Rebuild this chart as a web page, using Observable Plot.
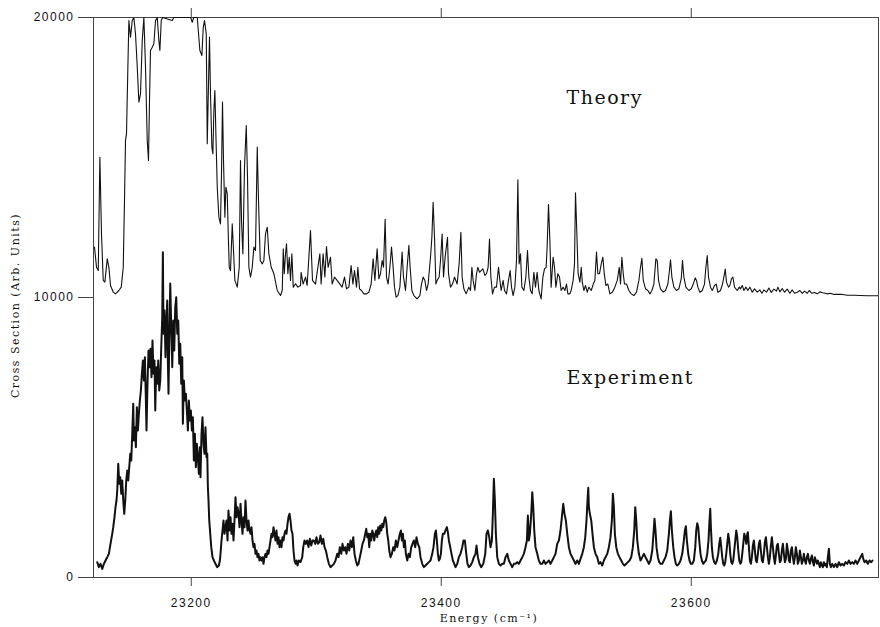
<!DOCTYPE html>
<html><head><meta charset="utf-8">
<script src="https://cdn.jsdelivr.net/npm/d3@7"></script>
<script src="https://cdn.jsdelivr.net/npm/@observablehq/plot@0.6"></script>
<style>body{margin:0;background:#fff} svg{display:block}</style>
</head><body><div id="chart"></div>
<script>
// Theory spectrum (offset by +10000 in the figure), [energy cm^-1, cross section]
const theory = [
[23122.6,11800],[23124.2,11080],[23125.6,10960],[23126.9,15010],[23128.2,12270],[23129.6,10610],[23130.9,10550],[23132.8,11380],[23134.1,11080],[23135.4,10430],[23137.6,10190],[23139.4,10130],[23142.1,10250],[23144.0,10370],[23145.6,11080],[23146.6,13460],[23147.4,15610],[23148.2,15850],[23149.3,18230],[23150.1,19890],[23151.4,19300],[23152.8,19890],[23154.1,20000],[23155.4,19420],[23156.8,18230],[23158.1,16980],[23159.4,17270],[23160.8,19180],[23162.1,20000],[23163.4,18230],[23164.8,15610],[23165.8,14890],[23166.6,17040],[23167.4,18820],[23168.8,18940],[23170.1,19060],[23171.4,19890],[23172.8,20000],[23174.1,19180],[23174.9,18820],[23176.0,19890],[23177.0,20000],[23184.8,19890],[23186,20000],[23199.5,20000],[23200.8,19830],[23202,20000],[23204.8,20000],[23206.9,18820],[23208.5,18640],[23209.6,19650],[23210.6,19890],[23212.0,19420],[23212.8,15490],[23213.8,17630],[23214.6,19300],[23215.4,17270],[23216.5,15370],[23217.3,15130],[23218.1,16680],[23218.9,17390],[23219.7,15850],[23220.8,13940],[23222.1,12870],[23223.4,12630],[23224.2,14420],[23225.0,16980],[23225.8,14890],[23226.9,12870],[23227.7,13940],[23228.8,13700],[23229.6,12270],[23230.4,11080],[23231.4,10960],[23232.8,12630],[23233.8,11680],[23234.9,10610],[23236.8,10370],[23238.4,11080],[23239.4,14890],[23240.2,12750],[23241.3,11560],[23242.6,14650],[23244.0,16140],[23245.0,14300],[23246.1,11080],[23247.4,10730],[23248.8,11080],[23250.1,11800],[23251.4,11680],[23252.8,15370],[23253.8,13460],[23255.2,11320],[23256.8,11200],[23258.1,11320],[23259.4,12270],[23260.8,12510],[23262.1,11560],[23264.0,11080],[23266.1,10850],[23268.8,10250],[23271.4,10070],[23272.8,10250],[23273.6,11740],[23274.4,10850],[23275.4,11560],[23276.2,11920],[23277.3,10850],[23278.4,11440],[23279.4,10610],[23280.5,11560],[23281.6,10370],[23283.4,10490],[23285.3,10370],[23287.4,10430],
[23287.9,10900],[23289.5,10480],[23291.4,10730],[23292.7,10430],[23295.4,12390],[23297.0,10610],[23299.4,10480],[23301.3,11080],[23302.9,11560],[23303.9,10480],[23305.5,11560],[23306.9,10730],[23308.2,11820],[23309.5,11080],[23311.4,11440],[23312.7,10480],[23314.6,10730],[23316.7,10610],[23318.9,10480],[23320.7,10370],[23322.6,10730],[23324.2,10310],[23326.1,10370],[23327.9,11140],[23329.3,10480],[23330.6,10960],[23332.2,10370],[23333.3,11080],[23334.6,10310],[23336.2,10250],[23338.1,10130],[23340.2,10130],[23342.1,10190],[23343.9,10480],[23345.5,11380],[23346.9,10610],[23348.7,11740],[23350.1,10670],[23351.4,10850],[23352.7,11320],[23353.8,11080],[23355.1,12790],[23356.2,10730],[23357.5,10480],[23358.9,11080],[23360.2,11800],[23361.3,11200],[23362.6,10370],[23363.9,10010],[23365.3,10070],[23366.9,10370],[23368.7,11620],[23369.8,10730],[23371.4,10250],[23372.7,11080],[23374.1,11860],[23375.1,11080],[23376.5,10250],[23378.1,10070],[23380.7,9950],[23382.9,10070],[23384.2,10480],[23385.5,10730],[23386.9,10610],[23388.2,10250],[23389.5,10480],[23391.4,11440],[23392.5,12150],[23393.5,13400],[23394.6,12150],[23395.7,10480],[23396.7,10610],[23398.3,10730],[23399.4,11320],[23400.7,12270],[23401.8,10730],[23403.1,11440],[23405.0,12150],[23405.8,10850],[23407.4,10370],[23409.0,10480],[23410.6,10730],[23412.7,10480],[23414.3,11200],[23415.7,12330],[23416.7,10730],[23418.1,10310],[23419.9,10130],[23422.1,10370],[23423.4,10250],[23424.5,11080],[23425.5,10610],[23426.9,10250],[23428.2,10850],[23429.3,11080],[23430.6,10900],[23431.9,10960],[23433.3,11020],[23434.9,10790],[23436.2,10850],[23437.5,11080],[23438.6,12090],[23439.7,10730],[23441.0,10130],[23442.6,10370],[23444.2,10370],[23445.8,11080],[23446.9,10610],[23447.9,10250],[23449.5,10610],[23450.6,10250],[23452.2,10130],[23453.8,10610],[23455.1,10960],[23456.2,10370],[23457.5,10070],[23458.9,10370],[23460.2,11320],[23461.3,14200],[23462.3,11200],[23463.4,11560],[23464.5,10370],[23466.1,10250],[23467.7,10730],[23469.0,11680],[23470.1,10730],[23471.4,10250],[23472.7,10130],[23474.1,10900],[23475.4,10370],[23476.7,10900],[23478.1,10250],[23479.9,9950],[23481.3,10730],[23482.6,11020],[23483.9,11080],[23484.7,11800],[23485.8,13320],[23486.9,12040],[23487.9,10370],[23489.5,11440],[23490.6,11080],[23491.7,10370],[23493.3,10850],[23494.6,10730],[23495.9,10250],[23497.5,10370],[23498.9,10250],[23500.2,10480],[23501.3,10130],[23502.9,10130],[23503.9,10250],[23505.5,10610],[23506.6,11200],[23507.4,13740],[23508.5,12270],[23509.5,10850],[23510.9,10550],
[23512.0,11080],[23512.8,10550],[23514.1,10250],[23515.4,10430],[23516.8,10190],[23518.1,10370],[23520.0,10250],[23521.6,10480],[23522.9,10610],[23524.2,11620],[23525.3,10850],[23526.6,10850],[23528.0,11200],[23529.3,11440],[23530.4,10850],[23531.7,10430],[23533.3,10480],[23534.9,10130],[23536.8,10190],[23538.9,10370],[23540.8,10610],[23542.4,11080],[23543.4,10480],[23544.5,11440],[23545.6,10850],[23546.6,10480],[23548.2,10480],[23550.1,10250],[23552.0,10130],[23554.1,10070],[23556.2,10190],[23558.1,10610],[23559.4,11080],[23560.5,11400],[23561.6,10610],[23563.4,10310],[23565.3,10250],[23566.9,10130],[23568.5,10250],[23570.1,10480],[23571.7,11380],[23572.8,11320],[23573.8,10610],[23575.4,10310],[23577.6,10190],[23579.4,10250],[23581.3,10480],[23582.4,10900],[23583.4,11350],[23584.5,10730],[23586.1,10370],[23588.2,10250],[23590.1,10310],[23592.0,10670],[23593.0,11320],[23594.1,10730],[23595.7,10370],[23598.1,10250],[23600.0,10310],[23601.6,10480],[23603.2,10700],[23604.2,10610],[23605.3,10370],[23606.9,10190],[23608.8,10250],[23610.6,10480],[23611.7,11080],[23612.8,11500],[23613.8,10730],[23615.4,10370],[23616.8,10250],[23618.6,10430],[23620.0,10480],[23621.3,10190],[23623.4,10250],[23625.0,10480],[23626.1,10730],[23627.2,11020],[23628.2,10550],[23629.8,10370],[23630.9,10430],[23632.2,10670],[23633.3,10730],[23634.6,10370],[23636.8,10250],[23638.4,10370],[23639.4,10310],[23640.8,10430],[23642.1,10250],[23643.7,10370],[23645.3,10250],[23646.9,10370],[23648.8,10190],[23650.6,10310],[23652.8,10190],[23654.9,10270],[23656.5,10150],[23658.1,10270],[23660.2,10190],[23662.1,10340],[23664.0,10180],[23666.1,10300],[23668.2,10230],[23669.3,10370],[23670.9,10200],[23672.8,10320],[23674.6,10190],[23676.8,10300],[23678.9,10150],[23680.8,10270],[23682.6,10150],[23684.8,10190],[23686.9,10250],[23688.8,10150],[23690.6,10230],[23692.8,10150],[23694.4,10250],[23696.5,10150],[23698.6,10180],[23700.8,10130],[23702.9,10200],[23705.1,10170],[23707.2,10150],[23708.8,10130],[23711.4,10150],[23714.1,10110],[23716.8,10110],[23720.8,10110],[23724.8,10080],[23730.1,10080],[23735.4,10070],[23740.8,10060],[23749.8,10060]
];

// Experimental spectrum, [energy cm^-1, cross section]
const experiment = [
[23124.8,548],[23126.1,369],[23127.4,488],[23128.8,309],[23130.1,488],[23131.4,607],[23132.8,726],[23134.1,845],[23135.4,1202],[23136.8,1560],[23137.6,1798],[23138.6,2155],[23139.4,2512],[23140.2,2750],[23140.8,3107],[23141.6,4060],[23142.4,3345],[23143.2,3583],[23144.0,2988],[23144.8,3464],[23145.6,2750],[23146.4,2274],[23147.2,2750],[23148.0,3464],[23148.8,3822],[23149.6,3464],[23150.4,3940],[23151.2,4417],[23152.0,4179],[23152.8,5131],[23153.6,6203],[23154.1,4893],[23154.9,5369],[23155.7,4655],[23156.5,6083],[23157.3,5250],[23158.1,5845],[23158.9,6322],[23159.7,6679],[23160.5,7274],[23161.3,7750],[23162.1,7036],[23162.9,7869],[23163.7,6322],[23164.2,5250],[23165.0,6917],[23165.8,8107],[23166.6,7512],[23167.4,8167],[23168.2,7155],[23169.0,8464],[23169.8,7274],[23170.6,7750],[23171.2,5964],[23172.0,7512],[23172.8,6917],[23173.6,7750],[23174.4,6679],[23175.2,7036],[23176.0,8226],[23176.8,9298],[23177.3,11620],[23177.8,8703],[23178.6,9536],[23179.4,7869],[23180.2,9179],[23180.8,9893],[23181.3,7750],[23181.8,6560],[23182.4,8464],[23183.2,10500],[23184.0,8941],[23184.8,7512],[23185.6,9179],[23186.4,8107],[23187.2,9655],[23188.0,10012],[23188.8,8703],[23189.6,9179],[23190.4,7631],[23191.2,8345],[23192.0,6917],[23192.8,7869],[23193.3,5488],[23194.1,7036],[23194.9,6322],[23195.7,6560],[23196.5,5964],[23197.3,5250],[23198.1,6322],[23198.9,5607],[23199.7,5964],[23200.5,5250],[23201.3,5726],[23202.1,4179],[23202.9,5131],[23203.7,3940],[23204.5,4774],[23205.3,4298],[23206.1,3702],[23206.9,4655],[23207.4,3583],[23208.2,5131],[23209.0,5726],[23209.8,4774],[23210.6,4417],[23211.4,5369],[23212.2,4298],[23212.8,4417],[23213.3,3226],[23213.8,2750],[23214.4,2036],[23215.2,1560],[23216.0,1083],[23217.0,726],[23218.1,607],[23219.4,488],[23220.8,369],[23222.1,428],[23222.9,607],[23223.4,845],[23224.2,1322],[23225.0,1679],[23225.8,2036],[23226.6,1560],[23227.4,1798],[23228.2,2036],[23229.0,1322],[23229.8,2393],[23230.6,1679],[23231.4,2155],[23232.2,1560],[23233.0,1917],[23233.8,1322],[23234.6,2036],[23235.4,2869],[23236.2,2155],[23237.0,2512],[23237.8,2274],[23238.6,1798],[23239.4,2631],[23240.2,2036],[23241.0,1560],[23241.8,2155],[23242.6,1798],[23243.4,2750],[23244.2,2036],[23245.0,1679],[23245.8,2036],[23246.6,1679],[23247.4,1560],[23248.2,1798],[23249.0,1322],[23249.8,1083],[23250.6,1202],[23251.4,845],[23252.2,964],[23253.0,726],[23253.8,845],[23254.6,607],[23255.4,726],[23256.2,607],[23257.0,726],[23257.8,488],[23258.6,726],[23259.4,845],[23260.2,726],[23261.0,964],[23261.8,845],[23262.6,1083],[23263.4,1322],[23264.2,1560],[23265.0,1441],[23265.8,1798],[23266.6,1560],[23267.4,1322],[23268.2,1679],[23269.0,1202],[23269.8,1441],[23270.6,1083],[23271.4,1322],[23272.2,1083],[23273.0,1441],[23273.8,1322],[23274.6,1560],[23275.4,1679],[23276.2,1560],[23277.0,1917],[23277.8,2155],[23278.6,2274],[23279.4,2036],[23280.2,1679],[23281.0,1560],[23281.8,964],[23282.6,607],[23283.4,488],[23284.2,607],[23285.0,428],[23286.1,607],[23287.4,548],
[23288.8,726],[23289.6,1083],[23290.6,1322],[23291.7,1202],[23292.8,1322],[23293.8,1083],[23294.9,1381],[23296.0,1143],[23297.0,1322],[23298.1,1322],[23299.2,1202],[23300.2,1441],[23301.3,1202],[23302.4,1262],[23303.4,1500],[23304.5,1202],[23305.6,1381],[23306.6,1083],[23307.7,964],[23308.8,726],[23310.1,488],[23311.4,369],[23312.8,428],[23314.1,488],[23315.4,607],[23316.8,845],[23317.8,726],[23318.9,1083],[23320.0,845],[23321.0,1202],[23322.1,964],[23323.2,1083],[23324.2,845],[23325.3,1202],[23326.4,964],[23327.4,1322],[23328.5,1083],[23329.6,1441],[23330.6,845],[23331.7,607],[23332.8,428],[23333.8,488],[23334.9,726],[23336.0,964],[23337.0,1202],[23338.1,1322],[23339.2,1560],[23340.0,1738],[23340.8,1441],[23341.6,1560],[23342.4,1083],[23343.2,1560],[23344.0,1322],[23344.8,1679],[23345.6,1560],[23346.4,1322],[23347.2,1560],[23348.0,1679],[23348.8,1441],[23349.6,1798],[23350.4,1560],[23351.2,1857],[23352.0,1679],[23352.8,1917],[23353.6,1798],[23354.4,2036],[23355.2,2155],[23356.0,1976],[23356.8,1560],[23357.6,1322],[23358.4,964],[23359.4,726],[23360.5,845],[23361.6,1083],[23362.6,964],[23363.7,1322],[23364.8,1083],[23365.8,1322],[23366.9,1560],[23367.7,1679],[23368.5,1322],[23369.3,1560],[23370.1,1083],[23370.9,1322],[23371.7,845],[23372.8,607],[23373.8,845],[23374.9,726],[23376.0,1083],[23377.0,1202],[23378.1,1322],[23379.2,1083],[23380.2,1441],[23381.3,1202],[23382.4,1083],[23383.4,726],[23384.8,488],[23386.1,369],[23387.4,428],[23388.8,488],[23390.1,548],[23391.4,607],[23392.8,845],[23393.8,1083],[23394.9,1560],[23395.7,1679],[23396.5,1322],[23397.3,845],[23398.1,607],[23398.9,667],[23399.7,845],[23400.5,1322],[23401.3,1560],[23402.4,1560],[23403.4,1679],[23404.5,1798],[23405.3,1619],[23406.1,1322],[23407.2,1083],[23408.2,845],[23409.3,607],[23410.4,488],[23411.4,369],[23412.8,488],[23414.1,726],[23415.4,845],[23416.8,1083],[23417.8,1322],[23418.9,1322],[23420.0,845],[23421.0,488],[23422.1,369],[23423.4,428],[23424.8,548],[23426.1,726],[23427.4,845],[23428.2,1143],[23429.3,726],[23430.6,488],[23432.0,369],[23433.6,488],[23435.2,845],[23436.2,1560],[23437.3,1679],[23438.4,1441],[23439.4,1083],[23440.5,1322],[23441.3,2274],[23442.1,3524],[23442.9,2750],[23443.7,1560],[23444.8,726],[23446.1,488],[23447.4,428],[23448.8,488],[23450.1,488],[23451.4,726],[23452.8,845],[23454.1,607],[23455.4,488],[23456.8,369],[23458.1,488],[23459.4,488],[23460.8,548],[23462.1,488],[23463.4,607],[23464.8,726],[23466.1,845],[23467.4,1083],[23468.5,1322],[23469.3,2214],[23470.1,1322],[23470.9,1560],[23472.0,2274],[23472.8,3048],[23473.6,2512],[23474.4,1679],[23475.4,1083],[23476.8,845],[23478.1,607],[23479.4,488],[23480.8,488],[23482.1,607],[23483.4,488],[23484.8,548],[23486.1,607],[23487.4,488],[23488.8,607],[23490.1,726],[23491.4,845],[23492.8,1202],[23494.1,1322],[23495.4,1679],[23496.5,2155],[23497.6,2631],[23498.6,2274],[23499.7,2036],[23500.8,1560],[23502.1,1083],[23503.4,845],[23504.8,726],[23506.1,607],[23507.4,488],[23508.8,607],[23510.1,488],
[23511.4,667],[23512.8,845],[23514.1,1083],[23515.2,1441],[23516.2,2036],[23517.0,2750],[23517.6,3202],[23518.1,2512],[23518.9,2274],[23520.0,2036],[23521.0,1560],[23522.1,1083],[23523.4,845],[23524.8,726],[23526.1,488],[23527.4,548],[23528.8,428],[23530.1,607],[23531.4,726],[23532.8,845],[23534.1,1083],[23535.4,1441],[23536.5,2036],[23537.3,2988],[23538.1,2512],[23538.9,1560],[23540.0,1083],[23541.3,845],[23542.6,726],[23544.0,607],[23545.3,488],[23546.6,428],[23548.0,488],[23549.3,548],[23550.6,607],[23552.0,726],[23553.3,1083],[23554.4,1679],[23555.2,2512],[23556.0,2036],[23556.8,1322],[23558.1,845],[23559.4,607],[23560.8,726],[23562.1,845],[23563.4,726],[23564.8,607],[23566.1,488],[23567.4,607],[23568.8,964],[23569.8,1560],[23570.6,2096],[23571.4,1679],[23572.2,1083],[23573.3,726],[23574.4,548],[23575.4,488],[23576.8,488],[23578.1,607],[23579.4,726],[23580.8,964],[23582.1,1560],[23582.9,2036],[23583.7,2369],[23584.5,1679],[23585.6,1083],[23586.6,726],[23587.7,488],[23588.8,428],[23590.1,488],[23591.4,607],[23592.8,845],[23594.1,1322],[23594.9,1679],[23595.7,1833],[23596.5,1322],[23597.6,845],[23598.6,607],[23599.7,488],[23600.8,488],[23602.1,607],[23603.2,1083],[23604.0,1679],[23604.8,1941],[23605.6,1798],[23606.4,1322],[23607.4,845],[23608.5,607],[23609.6,488],[23610.6,548],[23611.7,607],[23612.8,845],[23613.8,1322],[23614.6,2036],[23615.2,2452],[23615.7,1798],[23616.5,1083],[23617.3,726],[23618.4,548],[23619.4,488],[23620.5,607],[23621.6,845],[23622.4,1202],[23623.2,1417],[23624.0,1083],[23624.8,726],[23625.6,488],[23626.4,428],[23627.2,548],[23628.0,845],[23628.8,1202],[23629.6,1560],[23630.4,1322],[23631.2,845],[23632.0,548],[23632.8,488],[23633.6,607],[23634.4,964],[23635.2,1322],[23636.0,1679],[23636.8,1441],[23637.6,964],[23638.4,607],[23639.2,488],[23640.0,548],[23640.8,845],[23641.6,1202],[23642.4,1560],[23643.2,1441],[23644.0,1202],[23644.8,1560],[23645.3,1619],[23646.1,1083],[23646.9,607],[23647.7,488],[23648.5,726],[23649.3,1143],[23650.1,1322],[23650.9,964],[23651.7,607],[23652.5,548],[23653.3,845],[23654.1,1202],[23654.9,1322],[23655.7,964],[23656.5,607],[23657.3,548],[23658.1,845],[23658.9,1262],[23659.7,1441],[23660.5,1083],[23661.3,726],[23662.1,488],[23662.9,726],[23663.7,1143],[23664.5,1441],[23665.3,1083],[23666.1,726],[23666.9,488],[23667.7,786],[23668.5,1143],[23669.3,1202],[23670.1,845],[23670.9,548],[23671.7,607],[23672.5,964],[23673.3,1202],[23674.1,845],[23674.9,548],[23675.7,667],[23676.5,1202],[23677.3,964],[23678.1,607],[23678.9,548],[23679.7,964],[23680.5,1083],[23681.3,726],[23682.1,488],[23682.9,726],[23683.7,1083],[23684.5,845],[23685.3,488],[23686.1,607],[23686.9,964],[23687.7,726],[23688.5,488],[23689.3,607],[23690.1,845],[23690.9,607],[23691.7,488],[23692.5,726],[23693.3,845],[23694.1,607],[23694.9,488],[23695.7,667],[23696.5,786],[23697.3,548],[23698.1,428],[23698.9,726],[23699.7,607],[23700.5,488],[23701.3,607],[23702.1,488],[23702.9,369],[23703.7,548],[23704.5,428],[23705.3,369],[23706.1,548],[23706.9,428],[23707.7,488],[23708.5,369],[23709.3,726],[23710.1,1024],[23710.9,488],[23711.7,369],[23712.8,488],[23714.1,369],[23715.4,488],[23716.8,369],[23718.1,548],[23719.4,428],[23720.8,488],[23722.1,428],[23723.4,548],[23724.8,488],[23726.1,607],[23727.4,488],[23728.8,548],[23730.1,488],[23731.4,607],[23732.8,488],[23734.1,607],[23735.4,726],[23736.8,845],[23737.6,667],[23738.6,548],[23740.0,607],[23741.3,488],[23742.6,607],[23744.0,548],[23745.0,607]
];

const xDomain = [23121.8, 23749.8];
const yDomain = [0, 20000];
const xTicks = [23200, 23400, 23600];
const yTicks = [0, 10000, 20000];
const seriesLabels = ["Theory", "Experiment"];
const xLabel = "Energy (cm\u207B\u00B9)";
const yLabel = "Cross Section (Arb. Units)";

const serif = "'DejaVu Serif', serif";
const sans = "'Liberation Sans', Arial, sans-serif";

const chart = Plot.plot({
  width: 880, height: 627,
  marginLeft: 93, marginRight: 2, marginTop: 17, marginBottom: 50,
  x: {domain: xDomain},
  y: {domain: yDomain},
  style: {background: "white", color: "#111", letterSpacing: "1.5px", overflow: "visible"},
  marks: [
    Plot.frame({stroke: "#444", strokeWidth: 1}),
    Plot.line(theory, {x: d => d[0], y: d => d[1], stroke: "#111", strokeWidth: 1.1, clip: true}),
    Plot.line(experiment, {x: d => d[0], y: d => d[1], stroke: "#111", strokeWidth: 2, clip: true}),
    Plot.axisY({ticks: yTicks, tickSize: 15, tickPadding: 4, tickFormat: d3.format("d"), fontFamily: sans, fontSize: 12, stroke: "#444"}),
    Plot.axisX({ticks: xTicks, tickSize: 9, tickPadding: 12, tickFormat: d3.format("d"), fontFamily: sans, fontSize: 12, stroke: "#444"}),
    Plot.axisX({anchor: "top", ticks: xTicks, tickSize: 10, tickFormat: () => "", stroke: "#444"}),
    Plot.text([seriesLabels[0]], {text: d => d, frameAnchor: "top-left", dx: 473, dy: 86, textAnchor: "start", lineAnchor: "bottom", fontFamily: serif, fontSize: 19, fill: "#111"}),
    Plot.text([seriesLabels[1]], {text: d => d, frameAnchor: "top-left", dx: 473, dy: 366, textAnchor: "start", lineAnchor: "bottom", fontFamily: serif, fontSize: 19, fill: "#111"}),
    Plot.text([xLabel], {text: d => d, frameAnchor: "bottom", dx: 3, dy: 44, textAnchor: "middle", lineAnchor: "bottom", fontFamily: serif, fontSize: 11, fill: "#111"}),
    Plot.text([yLabel], {text: d => d, frameAnchor: "left", rotate: -90, dx: -78, dy: 8, textAnchor: "middle", lineAnchor: "middle", fontFamily: serif, fontSize: 11, fill: "#111"})
  ]
});
document.getElementById("chart").appendChild(chart);
</script>
</body></html>
